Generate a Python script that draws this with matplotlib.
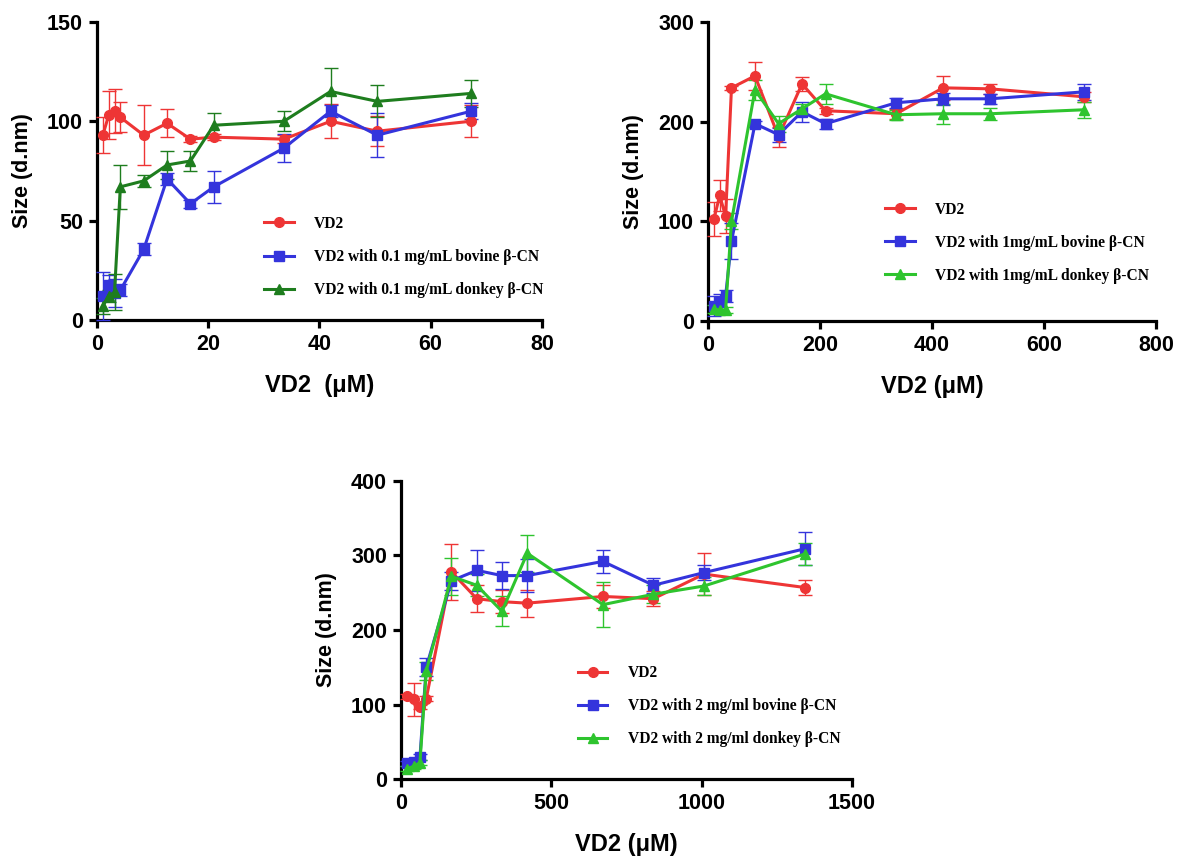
import numpy as np
import matplotlib.pyplot as plt

# panel 1 (0.1 mg/mL)
x1 = [1.05, 2.1, 3.15, 4.2, 8.4, 12.6, 16.8, 21, 33.6, 42, 50.4, 67.2]
red1 = [93, 103, 105, 102, 93, 99, 91, 92, 91, 100, 95, 100]
red1_err = [9, 12, 11, 7.5, 15, 7, 1.5, 1.5, 2, 8.5, 7.5, 8]
blue1 = [12, 17.5, 13.5, 15, 35.5, 71, 58.5, 67, 86.5, 105, 93, 105]
blue1_err = [12, 5, 7, 3, 3, 3, 2, 8, 7, 3, 11, 4]
green1 = [7, 12, 14, 67, 70, 78, 80, 98, 100, 115, 110, 114]
green1_err = [4, 3, 9, 11, 3, 7, 5, 6, 5, 12, 8, 7]

# panel 2 (1 mg/mL)
x2 = [10.5, 21, 31.5, 42, 84, 126, 168, 210, 336, 420, 504, 672]
red2 = [102, 126, 105, 234, 246, 185, 238, 211, 208, 234, 233, 225]
red2_err = [17, 16, 17, 2, 14, 10, 7, 3, 5, 12, 5, 5]
blue2 = [15, 19, 25, 80, 198, 187, 210, 198, 219, 223, 223, 230]
blue2_err = [10, 8, 6, 18, 3, 7, 10, 5, 5, 6, 5, 8]
green2 = [12, 11, 11, 100, 232, 198, 213, 228, 207, 208, 208, 212]
green2_err = [4, 3, 3, 8, 10, 8, 5, 10, 5, 10, 6, 8]

# panel 3 (2 mg/ml)
x3 = [21, 42, 63, 84, 168, 252, 336, 420, 672, 840, 1008, 1344]
red3 = [111, 107, 97, 108, 278, 242, 238, 236, 245, 242, 275, 257]
red3_err = [3, 22, 3, 3, 38, 18, 15, 18, 15, 10, 28, 10]
blue3 = [21, 23, 29, 150, 266, 280, 273, 273, 292, 260, 277, 309]
blue3_err = [3, 3, 4, 12, 12, 28, 18, 22, 15, 10, 10, 22]
green3 = [14, 17, 22, 145, 272, 260, 225, 303, 234, 248, 259, 302]
green3_err = [3, 3, 3, 12, 25, 15, 20, 25, 30, 12, 12, 15]

labels1 = ["VD2", "VD2 with 0.1 mg/mL bovine β-CN", "VD2 with 0.1 mg/mL donkey β-CN"]
labels2 = ["VD2", "VD2 with 1mg/mL bovine β-CN", "VD2 with 1mg/mL donkey β-CN"]
labels3 = ["VD2", "VD2 with 2 mg/ml bovine β-CN", "VD2 with 2 mg/ml donkey β-CN"]

RED = '#EE3535'
BLUE = '#3434DC'
DKGREEN = '#1E7D1E'
GREEN = '#2EC42E'

plt.rcParams['font.family'] = ['Liberation Sans', 'DejaVu Sans']
plt.rcParams['font.weight'] = 'bold'

fig = plt.figure(figsize=(11.77, 8.59), dpi=100)


def draw_panel(rect, x, series, labels, xlim, ylim, xticks, yticks, xlabel, leg_anchor):
    ax = fig.add_axes(rect)
    markers = ['o', 's', '^']
    handles = []
    for (y, err, col), mk, lab in zip(series, markers, labels):
        c = ax.errorbar(x, y, yerr=err, color=col, marker=mk, markersize=7, lw=2.2,
                        elinewidth=1.0, capsize=5, capthick=1.0, ecolor=col,
                        label=lab, clip_on=False, zorder=3)
        handles.append(c[0])
    ax.set_xlim(*xlim)
    ax.set_ylim(*ylim)
    ax.set_xticks(xticks)
    ax.set_yticks(yticks)
    for s in ['top', 'right']:
        ax.spines[s].set_visible(False)
    for s in ['left', 'bottom']:
        ax.spines[s].set_linewidth(2.3)
    ax.tick_params(width=2.3, length=6, labelsize=15.5, pad=4)
    for t in ax.get_xticklabels() + ax.get_yticklabels():
        t.set_fontweight('bold')
    ax.set_ylabel("Size (d.nm)", fontsize=15.5, fontweight='bold', labelpad=10)
    ax.set_xlabel(xlabel, fontsize=17, fontweight='bold', labelpad=14)
    ax.legend(handles, labels, loc='upper left', bbox_to_anchor=leg_anchor,
              bbox_transform=fig.transFigure,
              frameon=False, handlelength=1.9, handletextpad=1.3, labelspacing=1.1,
              prop={'family': 'Liberation Serif', 'weight': 'bold', 'size': 11.2})
    return ax


draw_panel([0.0824, 0.6275, 0.378, 0.347], x1,
           [(red1, red1_err, RED), (blue1, blue1_err, BLUE), (green1, green1_err, DKGREEN)],
           labels1, (0, 80), (0, 150), [0, 20, 40, 60, 80], [0, 50, 100, 150],
           "VD2  (μM)", (0.2125, 0.765))

draw_panel([0.6015, 0.6263, 0.3806, 0.348], x2,
           [(red2, red2_err, RED), (blue2, blue2_err, BLUE), (green2, green2_err, GREEN)],
           labels2, (0, 800), (0, 300), [0, 200, 400, 600, 800], [0, 100, 200, 300],
           "VD2 (μM)", (0.740, 0.7815))

draw_panel([0.3407, 0.0931, 0.383, 0.347], x3,
           [(red3, red3_err, RED), (blue3, blue3_err, BLUE), (green3, green3_err, GREEN)],
           labels3, (0, 1500), (0, 400), [0, 500, 1000, 1500], [0, 100, 200, 300, 400],
           "VD2 (μM)", (0.479, 0.242))

fig.savefig("out.png", dpi=100)
